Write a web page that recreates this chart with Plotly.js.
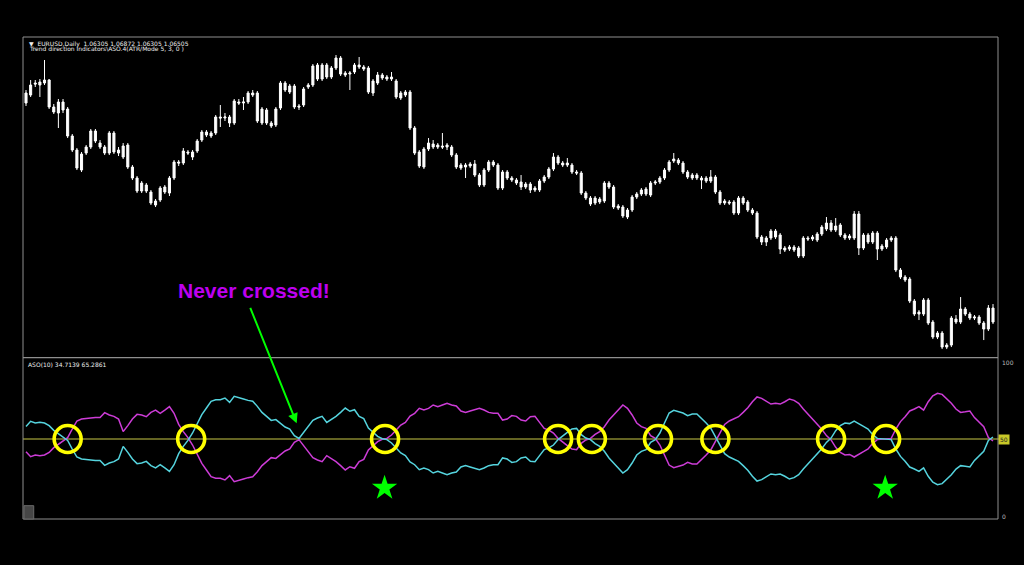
<!DOCTYPE html>
<html>
<head>
<meta charset="utf-8">
<script src="https://cdn.plot.ly/plotly-3.0.1.min.js"></script>
<style>html,body{margin:0;padding:0;background:#000;}#chart{width:1024px;height:565px;}</style>
</head>
<body>
<div id="chart"></div>
<script>
// ---- EURUSD Daily candles (price) ----
const openPx = [
1.268,1.276,1.288,1.286,1.288,1.291,1.264,1.258,1.269,1.262,
1.235,1.221,1.201,1.218,1.224,1.240,1.228,1.224,1.218,1.238,
1.221,1.214,1.226,1.204,1.193,1.180,1.186,1.179,1.170,1.171,
1.184,1.178,1.193,1.209,1.208,1.219,1.219,1.220,1.231,1.239,
1.238,1.238,1.254,1.253,1.254,1.248,1.269,1.268,1.269,1.278,
1.278,1.248,1.261,1.248,1.246,1.263,1.288,1.285,1.285,1.265,
1.266,1.284,1.286,1.306,1.292,1.306,1.294,1.303,1.313,1.298,
1.297,1.299,1.306,1.304,1.303,1.278,1.288,1.296,1.294,1.292,
1.290,1.278,1.276,1.279,1.243,1.219,1.204,1.222,1.227,1.226,
1.225,1.224,1.224,1.216,1.203,1.206,1.205,1.207,1.196,1.186,
1.201,1.209,1.206,1.183,1.199,1.193,1.191,1.189,1.184,1.187,
1.181,1.181,1.190,1.194,1.202,1.214,1.208,1.206,1.206,1.199,
1.198,1.178,1.173,1.168,1.172,1.170,1.188,1.184,1.165,1.164,
1.154,1.161,1.174,1.177,1.182,1.176,1.188,1.189,1.193,1.201,
1.210,1.211,1.208,1.199,1.196,1.193,1.193,1.190,1.194,1.194,
1.179,1.168,1.169,1.169,1.158,1.173,1.169,1.161,1.158,1.134,
1.129,1.133,1.140,1.136,1.123,1.122,1.124,1.123,1.115,1.133,
1.132,1.131,1.137,1.142,1.148,1.141,1.146,1.136,1.133,1.133,
1.157,1.123,1.136,1.129,1.138,1.122,1.124,1.131,1.133,1.101,
1.094,1.092,1.070,1.057,1.057,1.071,1.049,1.034,1.038,1.024,
1.026,1.052,1.049,1.062,1.057,1.053,1.054,1.048,1.042,1.063];
const highPx = [
1.281,1.291,1.291,1.292,1.311,1.292,1.267,1.272,1.272,1.264,
1.237,1.223,1.219,1.226,1.242,1.242,1.231,1.226,1.240,1.240,
1.224,1.228,1.228,1.206,1.195,1.190,1.188,1.181,1.172,1.185,
1.186,1.195,1.211,1.211,1.223,1.221,1.221,1.232,1.241,1.241,
1.240,1.256,1.266,1.258,1.256,1.272,1.272,1.274,1.280,1.281,
1.280,1.264,1.263,1.250,1.264,1.290,1.290,1.287,1.287,1.267,
1.284,1.288,1.307,1.308,1.308,1.308,1.305,1.316,1.315,1.300,
1.300,1.308,1.314,1.306,1.305,1.292,1.299,1.298,1.296,1.299,
1.292,1.280,1.281,1.281,1.245,1.221,1.224,1.233,1.231,1.228,
1.238,1.228,1.226,1.218,1.208,1.208,1.209,1.211,1.198,1.203,
1.211,1.211,1.208,1.201,1.201,1.195,1.193,1.196,1.189,1.189,
1.185,1.192,1.196,1.204,1.218,1.216,1.210,1.213,1.208,1.201,
1.200,1.180,1.175,1.175,1.174,1.190,1.190,1.186,1.167,1.166,
1.163,1.176,1.179,1.183,1.184,1.190,1.191,1.195,1.203,1.211,
1.218,1.213,1.210,1.201,1.198,1.198,1.195,1.195,1.201,1.196,
1.181,1.172,1.171,1.171,1.175,1.175,1.171,1.163,1.160,1.136,
1.135,1.142,1.142,1.138,1.125,1.126,1.126,1.125,1.135,1.135,
1.136,1.139,1.146,1.154,1.151,1.153,1.148,1.138,1.137,1.160,
1.160,1.138,1.138,1.140,1.140,1.127,1.133,1.135,1.135,1.103,
1.096,1.094,1.072,1.061,1.073,1.073,1.051,1.040,1.040,1.028,
1.055,1.056,1.074,1.064,1.059,1.056,1.056,1.050,1.066,1.067];
const lowPx = [
1.265,1.274,1.284,1.274,1.286,1.262,1.257,1.243,1.258,1.233,
1.219,1.201,1.199,1.216,1.222,1.228,1.222,1.216,1.216,1.217,
1.215,1.212,1.202,1.191,1.178,1.178,1.178,1.166,1.164,1.169,
1.177,1.175,1.191,1.205,1.206,1.216,1.211,1.218,1.229,1.234,
1.233,1.236,1.244,1.250,1.244,1.246,1.266,1.261,1.267,1.274,
1.248,1.246,1.246,1.243,1.244,1.261,1.279,1.277,1.262,1.261,
1.264,1.282,1.284,1.290,1.290,1.292,1.292,1.301,1.295,1.294,
1.281,1.297,1.302,1.300,1.277,1.275,1.286,1.291,1.290,1.290,
1.272,1.271,1.274,1.241,1.216,1.203,1.202,1.220,1.222,1.222,
1.222,1.221,1.214,1.202,1.201,1.193,1.203,1.194,1.184,1.184,
1.199,1.204,1.181,1.181,1.191,1.189,1.186,1.181,1.182,1.178,
1.179,1.179,1.188,1.192,1.200,1.206,1.204,1.204,1.197,1.196,
1.176,1.171,1.165,1.166,1.167,1.168,1.182,1.162,1.161,1.153,
1.152,1.159,1.172,1.175,1.175,1.174,1.186,1.187,1.191,1.199,
1.208,1.206,1.197,1.192,1.191,1.191,1.182,1.188,1.188,1.177,
1.166,1.166,1.166,1.156,1.156,1.166,1.159,1.156,1.132,1.126,
1.125,1.131,1.132,1.117,1.119,1.120,1.119,1.113,1.113,1.130,
1.130,1.129,1.135,1.140,1.139,1.139,1.134,1.131,1.131,1.131,
1.116,1.121,1.127,1.127,1.111,1.120,1.122,1.129,1.099,1.092,
1.089,1.068,1.055,1.051,1.055,1.046,1.032,1.032,1.022,1.022,
1.024,1.047,1.047,1.055,1.051,1.051,1.046,1.031,1.040,1.047];
const closePx = [
1.278,1.286,1.287,1.289,1.291,1.264,1.259,1.269,1.261,1.235,
1.221,1.203,1.217,1.224,1.240,1.230,1.224,1.218,1.238,1.219,
1.218,1.225,1.204,1.193,1.180,1.188,1.180,1.168,1.166,1.183,
1.179,1.193,1.209,1.208,1.220,1.218,1.214,1.230,1.239,1.236,
1.235,1.254,1.253,1.254,1.248,1.270,1.268,1.269,1.278,1.276,
1.250,1.262,1.248,1.245,1.262,1.288,1.281,1.279,1.264,1.264,
1.282,1.286,1.305,1.292,1.306,1.294,1.303,1.313,1.297,1.296,
1.298,1.306,1.304,1.302,1.279,1.290,1.296,1.293,1.292,1.294,
1.274,1.273,1.279,1.243,1.218,1.205,1.222,1.228,1.224,1.224,
1.224,1.226,1.216,1.204,1.206,1.204,1.207,1.196,1.186,1.201,
1.209,1.206,1.183,1.199,1.193,1.191,1.188,1.184,1.187,1.181,
1.183,1.190,1.194,1.202,1.214,1.208,1.206,1.208,1.199,1.198,
1.178,1.173,1.167,1.173,1.169,1.188,1.184,1.164,1.163,1.155,
1.161,1.174,1.177,1.181,1.177,1.188,1.189,1.193,1.201,1.209,
1.212,1.208,1.199,1.194,1.193,1.196,1.191,1.193,1.190,1.179,
1.168,1.170,1.168,1.158,1.173,1.168,1.161,1.158,1.134,1.129,
1.133,1.140,1.134,1.122,1.121,1.124,1.121,1.115,1.133,1.132,
1.134,1.137,1.144,1.148,1.141,1.145,1.136,1.133,1.135,1.157,
1.123,1.136,1.129,1.138,1.122,1.125,1.131,1.133,1.101,1.094,
1.091,1.070,1.057,1.059,1.071,1.048,1.034,1.038,1.024,1.026,
1.053,1.049,1.062,1.057,1.053,1.054,1.048,1.042,1.063,1.049];

// ---- ASO(10) oscillator lines ----
const asoCyan = [
58.2,61.5,60.4,60.8,60.4,58.7,55.6,53.5,51.7,49.1,
43.5,38.3,37.0,36.6,36.6,36.1,36.1,32.9,34.4,35.3,
37.0,45.2,41.3,37.0,34.0,34.4,35.5,32.7,31.2,33.3,
31.2,29.0,33.3,40.5,45.2,49.1,53.9,60.0,65.8,70.1,
74.5,75.5,75.5,76.6,73.8,77.7,76.6,76.0,75.1,74.5,
71.2,67.3,64.7,62.1,62.6,60.0,57.8,56.5,52.2,50.4,
54.3,58.2,62.1,63.6,64.7,60.8,62.6,64.7,67.3,70.1,
68.0,69.0,64.7,63.2,57.1,54.3,51.7,50.2,49.6,47.4,
44.2,40.9,39.2,35.1,33.3,30.1,31.2,30.1,27.9,29.0,
27.9,26.8,27.9,28.6,31.8,32.7,31.8,31.0,30.1,31.2,
32.7,33.3,33.3,37.7,37.0,34.8,35.3,37.7,38.3,35.5,
35.3,39.2,43.1,44.2,46.1,49.6,52.2,54.3,56.5,56.9,
52.8,50.6,49.6,47.0,45.2,42.0,37.7,34.4,30.5,27.9,
30.1,34.4,39.6,42.0,43.1,47.8,49.6,53.9,
60.4,66.9,68.6,68.0,66.9,65.2,66.2,66.2,63.6,60.4,
57.1,51.3,46.3,40.5,38.3,37.0,35.5,32.7,29.7,25.8,
22.7,23.6,25.3,27.3,26.8,27.3,25.8,24.0,24.9,26.8,
30.5,33.8,36.6,39.8,43.7,47.8,50.6,55.4,58.7,60.4,
60.0,61.7,59.7,58.2,56.5,52.8,50.4,50.0,50.0,49.6,
43.5,38.7,35.5,31.8,30.5,29.0,31.2,25.8,21.9,20.3,
21.0,24.0,26.8,30.5,32.7,32.3,31.8,36.1,39.2,42.0,
49.1,51.3];
const asoMagenta = [
41.8,38.5,39.6,39.2,39.6,41.3,44.4,46.5,48.3,50.9,
56.5,61.7,63.0,63.4,63.4,63.9,63.9,67.1,65.6,64.7,
63.0,54.8,58.7,63.0,66.0,65.6,64.5,67.3,68.8,66.7,
68.8,71.0,66.7,59.5,54.8,50.9,46.1,40.0,34.2,29.9,
25.5,24.5,24.5,23.4,26.2,22.3,23.4,24.0,24.9,25.5,
28.8,32.7,35.3,37.9,37.4,40.0,42.2,43.5,47.8,49.6,
45.7,41.8,37.9,36.4,35.3,39.2,37.4,35.3,32.7,29.9,
32.0,31.0,35.3,36.8,42.9,45.7,48.3,49.8,50.4,52.6,
55.8,59.1,60.8,64.9,66.7,69.9,68.8,69.9,72.1,71.0,
72.1,73.2,72.1,71.4,68.2,67.3,68.2,69.0,69.9,68.8,
67.3,66.7,66.7,62.3,63.0,65.2,64.7,62.3,61.7,64.5,
64.7,60.8,56.9,55.8,53.9,50.4,47.8,45.7,43.5,43.1,
47.2,49.4,50.4,53.0,54.8,58.0,62.3,65.6,69.5,72.1,
69.9,65.6,60.4,58.0,56.9,52.2,50.4,46.1,
39.6,33.1,31.4,32.0,33.1,34.8,33.8,33.8,36.4,39.6,
42.9,48.7,53.7,59.5,61.7,63.0,64.5,67.3,70.3,74.2,
77.3,76.4,74.7,72.7,73.2,72.7,74.2,76.0,75.1,73.2,
69.5,66.2,63.4,60.2,56.3,52.2,49.4,44.6,41.3,39.6,
40.0,38.3,40.3,41.8,43.5,47.2,49.6,50.0,50.0,50.4,
56.5,61.3,64.5,68.2,69.5,71.0,68.8,74.2,78.1,79.7,
79.0,76.0,73.2,69.5,67.3,67.7,68.2,63.9,60.8,58.0,
50.9,48.7];

// ---- annotations data ----
const crossBars = [9.0, 35.7, 77.6, 115.0, 122.3, 136.6, 149.0, 174.0, 185.9];
const crossLevel = [50, 50, 50, 50, 50, 50, 50, 50, 50];
const starBars = [77.5, 185.7];
const starLevel = [18.2, 18.2];
const midLevel = 50;
const neverBar = 58.5, neverLevel = 60.2;
const symbolLabel = "\u25BC  EURUSD,Daily  1.06305 1.06872 1.06305 1.06505";
const indLabel = "Trend direction Indicators\\ASO.4(ATR/Mode 5, 3, 0 )";
const asoLabel = "ASO(10) 34.7139 65.2861";
const scaleLabels = ["100", "50", "0"];

const bars = openPx.map((_, i) => i);

const traces = [
  {
    type: 'candlestick', x: bars, open: openPx, high: highPx, low: lowPx, close: closePx,
    xaxis: 'x', yaxis: 'y', whiskerwidth: 0,
    increasing: {line: {color: '#ffffff', width: 1}, fillcolor: '#ffffff'},
    decreasing: {line: {color: '#ffffff', width: 1}, fillcolor: '#ffffff'},
    hoverinfo: 'skip', showlegend: false
  },
  {
    type: 'scatter', mode: 'lines', x: bars, y: asoMagenta, xaxis: 'x', yaxis: 'y2',
    line: {color: 'rgb(205,60,215)', width: 1.5}, hoverinfo: 'skip', showlegend: false
  },
  {
    type: 'scatter', mode: 'lines', x: bars, y: asoCyan, xaxis: 'x', yaxis: 'y2',
    line: {color: 'rgb(85,212,222)', width: 1.5}, hoverinfo: 'skip', showlegend: false
  },
  {
    type: 'scatter', mode: 'markers', x: crossBars, y: crossLevel, xaxis: 'x', yaxis: 'y2',
    marker: {symbol: 'circle-open', size: 27, color: '#ffff00', line: {width: 3.6, color: '#ffff00'}},
    hoverinfo: 'skip', showlegend: false, cliponaxis: false
  },
  {
    type: 'scatter', mode: 'markers', x: starBars, y: starLevel, xaxis: 'x', yaxis: 'y2',
    marker: {symbol: 'star', size: 19, color: '#00ff00', line: {width: 0}},
    hoverinfo: 'skip', showlegend: false, cliponaxis: false
  }
];

const frame = '#8f8f8f';
const smallFont = {family: 'DejaVu Sans', size: 6, color: '#eeeeee'};

const layout = {
  width: 1024, height: 565,
  paper_bgcolor: '#000000', plot_bgcolor: '#000000',
  margin: {l: 23, r: 26, t: 37, b: 46, pad: 0},
  showlegend: false,
  boxgap: 0.36,
  xaxis: {range: [-0.65, 210.08], showgrid: false, zeroline: false, showticklabels: false,
          ticks: '', showline: false, rangeslider: {visible: false}, anchor: 'y2', fixedrange: true},
  yaxis: {domain: [0.336, 1], range: [1.014, 1.334], showgrid: false, zeroline: false,
          showticklabels: false, ticks: '', showline: false},
  yaxis2: {domain: [0, 0.334], range: [-1.95, 102.6], showgrid: false, zeroline: false,
           showticklabels: false, ticks: '', showline: false},
  shapes: [
    {type: 'line', xref: 'paper', yref: 'y2', x0: 0, x1: 1.004, y0: midLevel, y1: midLevel,
     line: {color: 'rgb(200,200,70)', width: 1}, layer: 'below'},
    {type: 'rect', xref: 'paper', yref: 'paper', x0: 0, x1: 1, y0: 0, y1: 1,
     line: {color: frame, width: 1}},
    {type: 'line', xref: 'paper', yref: 'paper', x0: 0, x1: 1, y0: 0.335, y1: 0.335,
     line: {color: frame, width: 1.2}},
    {type: 'rect', xref: 'paper', yref: 'paper', x0: 0.001, x1: 0.011, y0: 0, y1: 0.0276,
     fillcolor: '#464646', line: {color: '#6a6a6a', width: 1}}
  ],
  annotations: [
    {xref: 'paper', yref: 'paper', x: 0.004, y: 1.0, yshift: -1, xanchor: 'left', yanchor: 'top',
     text: symbolLabel, showarrow: false, font: smallFont},
    {xref: 'paper', yref: 'paper', x: 0.004, y: 1.0, yshift: -6, xanchor: 'left', yanchor: 'top',
     text: indLabel, showarrow: false, font: smallFont},
    {xref: 'paper', yref: 'paper', x: 0.003, y: 0.334, yshift: -1, xanchor: 'left', yanchor: 'top',
     text: asoLabel, showarrow: false, font: smallFont},
    {xref: 'paper', yref: 'y2', x: 1.002, y: 100, xanchor: 'left', yanchor: 'middle',
     text: scaleLabels[0], showarrow: false, font: {family: 'DejaVu Sans', size: 6, color: '#bdbdbd'}},
    {xref: 'paper', yref: 'y2', x: 1.0, y: midLevel, xanchor: 'left', yanchor: 'middle',
     text: scaleLabels[1], showarrow: false, bgcolor: 'rgb(200,200,40)', borderpad: 1,
     font: {family: 'DejaVu Sans', size: 6, color: '#222222'}},
    {xref: 'paper', yref: 'y2', x: 1.002, y: 0, xanchor: 'left', yanchor: 'middle',
     text: scaleLabels[2], showarrow: false, font: {family: 'DejaVu Sans', size: 6, color: '#bdbdbd'}},
    {xref: 'paper', yref: 'paper', x: 0.2374, y: 0.475, xanchor: 'center', yanchor: 'middle',
     text: '<b>Never crossed!</b>', showarrow: false,
     font: {family: 'Liberation Sans, Arial, sans-serif', size: 21, color: '#be00f0'}},
    {xref: 'x', yref: 'y2', x: neverBar, y: neverLevel, ax: -47, ay: -117, text: '',
     showarrow: true, arrowhead: 2, arrowsize: 1, arrowwidth: 2, arrowcolor: '#00ff00', standoff: 0}
  ]
};

Plotly.newPlot('chart', traces, layout, {staticPlot: true, displayModeBar: false});
</script>
</body>
</html>
